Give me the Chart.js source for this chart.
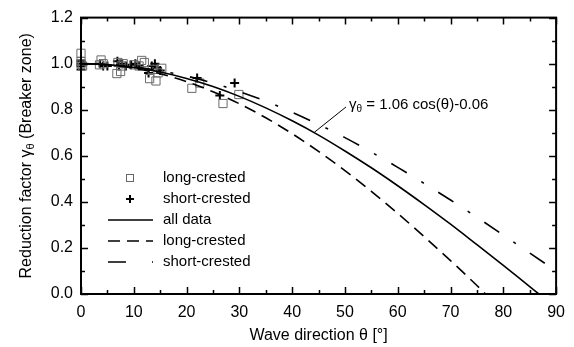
<!DOCTYPE html>
<html>
<head>
<meta charset="utf-8">
<script src="https://cdn.jsdelivr.net/npm/chart.js@4.4.0/dist/chart.umd.min.js"></script>
<style>
html, body { margin: 0; padding: 0; background: #fff; }
</style>
</head>
<body>
<canvas id="chart" width="574" height="347"></canvas>
<script>

// measured points, long-crested waves (squares)
var longTheta = [0, 0, 0, 0.3, 3.5, 3.8, 4.2, 6.8, 7.0, 7.5, 7.6, 8.0, 10.0, 11.0, 11.5, 12.0, 13.0, 13.5, 14.2, 14.6, 15.3, 21.0, 22.5, 26.9, 29.9];
var longGamma = [1.045, 1.0, 1.01, 0.99, 0.995, 1.016, 1.0, 0.957, 1.005, 0.966, 0.99, 1.0, 0.995, 0.99, 1.014, 1.005, 0.935, 0.975, 0.925, 0.96, 0.98, 0.893, 0.916, 0.827, 0.866];

// measured points, short-crested waves (crosses)
var shortTheta = [-3.3, 0, 0, 0, 0, 3.6, 4.2, 5.0, 6.9, 7.2, 7.8, 8.5, 9.5, 10.3, 11.0, 12.8, 13.4, 14.0, 14.5, 15.0, 22.0, 26.3, 29.1];
var shortGamma = [0.977, 1.0, 0.99, 0.975, 1.01, 1.0, 0.99, 0.99, 1.01, 0.99, 1.0, 0.99, 0.995, 1.0, 0.99, 0.96, 0.99, 1.0, 0.98, 0.97, 0.938, 0.862, 0.916];

// fitted curves
var fitAllTheta = [0, 5, 10, 15, 20, 25, 30, 35, 40, 45, 50, 55, 60, 65, 70, 75, 80, 85, 86.75];
var fitAllGamma = [1.000, 0.996, 0.984, 0.964, 0.936, 0.901, 0.858, 0.808, 0.752, 0.690, 0.621, 0.548, 0.470, 0.388, 0.303, 0.214, 0.124, 0.032, 0.0];

var fitLongTheta = [0, 5, 10, 15, 20, 25, 30, 35, 40, 45, 50, 55, 60, 65, 70, 75, 76.66];
var fitLongGamma = [1.000, 0.995, 0.980, 0.956, 0.922, 0.878, 0.826, 0.765, 0.696, 0.619, 0.536, 0.446, 0.350, 0.249, 0.145, 0.037, 0.0];

var fitShortTheta = [0, 5, 10, 15, 20, 25, 30, 35, 40, 45, 50, 55, 60, 65, 70, 75, 80, 85, 90];
var fitShortGamma = [1.000, 0.997, 0.986, 0.969, 0.946, 0.916, 0.879, 0.837, 0.789, 0.736, 0.679, 0.616, 0.550, 0.480, 0.408, 0.333, 0.256, 0.178, 0.100];

var xTicks = [0, 10, 20, 30, 40, 50, 60, 70, 80, 90];
var yTicks = [0.0, 0.2, 0.4, 0.6, 0.8, 1.0, 1.2];

// label of the fit: leader from curve point to text
var noteFrom = [44.2, 0.702];
var noteTo = [50.2, 0.812];

function toXY(xs, ys){
	var out = [];
	for (var i = 0; i < xs.length; i++){ out.push({x: xs[i], y: ys[i]}); }
	return out;
}

var FONT = '"Liberation Sans", Arial, sans-serif';
var DASH_LONG = [12, 7];
var DASH_SHORT = [18, 17, 3, 17];

// frame, inward ticks, legend, fit label, y title
var decorPlugin = {
	id: 'decor',
	afterDraw: function(chart){
		var ctx = chart.ctx;
		var a = chart.chartArea;
		var xs = chart.scales.x, ys = chart.scales.y;
		ctx.save();

		// frame
		ctx.strokeStyle = '#000';
		ctx.lineWidth = 2;
		ctx.strokeRect(a.left, a.top, a.right - a.left, a.bottom - a.top);

		// ticks on all four sides
		ctx.lineWidth = 1.5;
		ctx.beginPath();
		for (var t = 0; t <= 90; t += 5){
			var px = Math.round(xs.getPixelForValue(t)) + 0.5;
			var len = (t % 10 === 0) ? 7 : 4;
			ctx.moveTo(px, a.bottom); ctx.lineTo(px, a.bottom - len);
			ctx.moveTo(px, a.top); ctx.lineTo(px, a.top + len);
		}
		for (var k = 0; k <= 12; k++){
			var py = Math.round(ys.getPixelForValue(k / 10)) + 0.5;
			var len2 = (k % 2 === 0) ? 7 : 4;
			ctx.moveTo(a.left, py); ctx.lineTo(a.left + len2, py);
			ctx.moveTo(a.right, py); ctx.lineTo(a.right - len2, py);
		}
		ctx.stroke();

		// legend
		ctx.fillStyle = '#000';
		ctx.font = '15px ' + FONT;
		ctx.textBaseline = 'middle';
		ctx.textAlign = 'left';
		var lx = 163, symX = 130, lineA = 108, lineB = 153;
		var rows = [178, 199, 220, 241, 262];
		var labels = ['long-crested', 'short-crested', 'all data', 'long-crested', 'short-crested'];

		ctx.strokeStyle = '#666';
		ctx.lineWidth = 1;
		ctx.strokeRect(symX - 3.5, rows[0] - 3.5, 7, 7);

		ctx.strokeStyle = '#000';
		ctx.lineWidth = 2;
		ctx.beginPath();
		ctx.moveTo(symX - 4, rows[1]); ctx.lineTo(symX + 4, rows[1]);
		ctx.moveTo(symX, rows[1] - 4); ctx.lineTo(symX, rows[1] + 4);
		ctx.stroke();

		ctx.lineWidth = 1.6;
		var dashes = [[], DASH_LONG, [18, 26, 3, 20]];
		for (var d = 0; d < 3; d++){
			ctx.setLineDash(dashes[d]);
			ctx.beginPath();
			ctx.moveTo(lineA, rows[2 + d]);
			ctx.lineTo(lineB, rows[2 + d]);
			ctx.stroke();
		}
		ctx.setLineDash([]);
		for (var r = 0; r < rows.length; r++){
			ctx.fillText(labels[r], lx, rows[r]);
		}

		// fit label with leader line
		var fx = xs.getPixelForValue(noteFrom[0]), fy = ys.getPixelForValue(noteFrom[1]);
		var tx = xs.getPixelForValue(noteTo[0]), ty = ys.getPixelForValue(noteTo[1]);
		ctx.lineWidth = 1;
		ctx.beginPath();
		ctx.moveTo(fx, fy); ctx.lineTo(tx, ty);
		ctx.stroke();
		var x0 = tx + 3, y0 = ty - 2;
		ctx.font = '15px ' + FONT;
		ctx.fillText('\u03b3', x0, y0);
		x0 += ctx.measureText('\u03b3').width;
		ctx.font = '10px ' + FONT;
		ctx.fillText('\u03b8', x0, y0 + 4);
		x0 += ctx.measureText('\u03b8').width;
		ctx.font = '15px ' + FONT;
		ctx.fillText(' = 1.06 cos(\u03b8)-0.06', x0, y0);

		// y axis title with subscript
		ctx.translate(27, (a.top + a.bottom) / 2);
		ctx.rotate(-Math.PI / 2);
		var p1 = 'Reduction factor \u03b3', p2 = '\u03b8', p3 = ' (Breaker zone)';
		ctx.font = '16px ' + FONT;
		var w1 = ctx.measureText(p1).width, w3 = ctx.measureText(p3).width;
		ctx.font = '11px ' + FONT;
		var w2 = ctx.measureText(p2).width;
		var sx = -(w1 + w2 + w3) / 2;
		ctx.font = '16px ' + FONT;
		ctx.fillText(p1, sx, 0);
		ctx.font = '11px ' + FONT;
		ctx.fillText(p2, sx + w1, 4);
		ctx.font = '16px ' + FONT;
		ctx.fillText(p3, sx + w1 + w2, 0);

		ctx.restore();
	}
};

var lineBase = {
	type: 'line',
	borderColor: '#000',
	borderWidth: 1.6,
	pointRadius: 0,
	fill: false,
	cubicInterpolationMode: 'monotone',
	showLine: true
};

var ctx = document.getElementById('chart');
var chart = new Chart(ctx, {
	type: 'scatter',
	data: {
		datasets: [
			Object.assign({}, lineBase, { label: 'all data', data: toXY(fitAllTheta, fitAllGamma) }),
			Object.assign({}, lineBase, { label: 'long-crested fit', data: toXY(fitLongTheta, fitLongGamma), borderDash: DASH_LONG }),
			Object.assign({}, lineBase, { label: 'short-crested fit', data: toXY(fitShortTheta, fitShortGamma), borderDash: DASH_SHORT }),
			{
				label: 'long-crested',
				data: toXY(longTheta, longGamma),
				pointStyle: 'rect',
				pointRadius: 5.8,
				borderColor: '#6a6a6a',
				backgroundColor: 'rgba(0,0,0,0)',
				borderWidth: 1,
				clip: false
			},
			{
				label: 'short-crested',
				data: toXY(shortTheta, shortGamma),
				pointStyle: 'cross',
				pointRadius: 4.5,
				borderColor: '#000',
				borderWidth: 2,
				clip: false
			}
		]
	},
	options: {
		responsive: false,
		animation: false,
		devicePixelRatio: 1,
		layout: { padding: { top: 14, right: 16, left: 0, bottom: 0 } },
		plugins: { legend: { display: false }, tooltip: { enabled: false } },
		scales: {
			x: {
				type: 'linear',
				min: 0,
				max: 90,
				afterBuildTicks: function(s){ s.ticks = xTicks.map(function(v){ return {value: v}; }); },
				afterFit: function(s){ s.height = 53; },
				grid: { display: false, drawTicks: false },
				border: { display: false },
				ticks: { color: '#000', font: { size: 16, family: FONT }, padding: 9, maxRotation: 0, autoSkip: false },
				title: { display: true, text: 'Wave direction \u03b8 [\u00b0]', color: '#000', font: { size: 16, family: FONT }, padding: { top: 2, bottom: 2 } }
			},
			y: {
				type: 'linear',
				min: 0,
				max: 1.2,
				afterBuildTicks: function(s){ s.ticks = yTicks.map(function(v){ return {value: v}; }); },
				afterFit: function(s){ s.width = 81; },
				grid: { display: false, drawTicks: false },
				border: { display: false },
				ticks: { color: '#000', font: { size: 16, family: FONT }, padding: 8, callback: function(v){ return v.toFixed(1); } }
			}
		}
	},
	plugins: [decorPlugin]
});
</script>
</body>
</html>
